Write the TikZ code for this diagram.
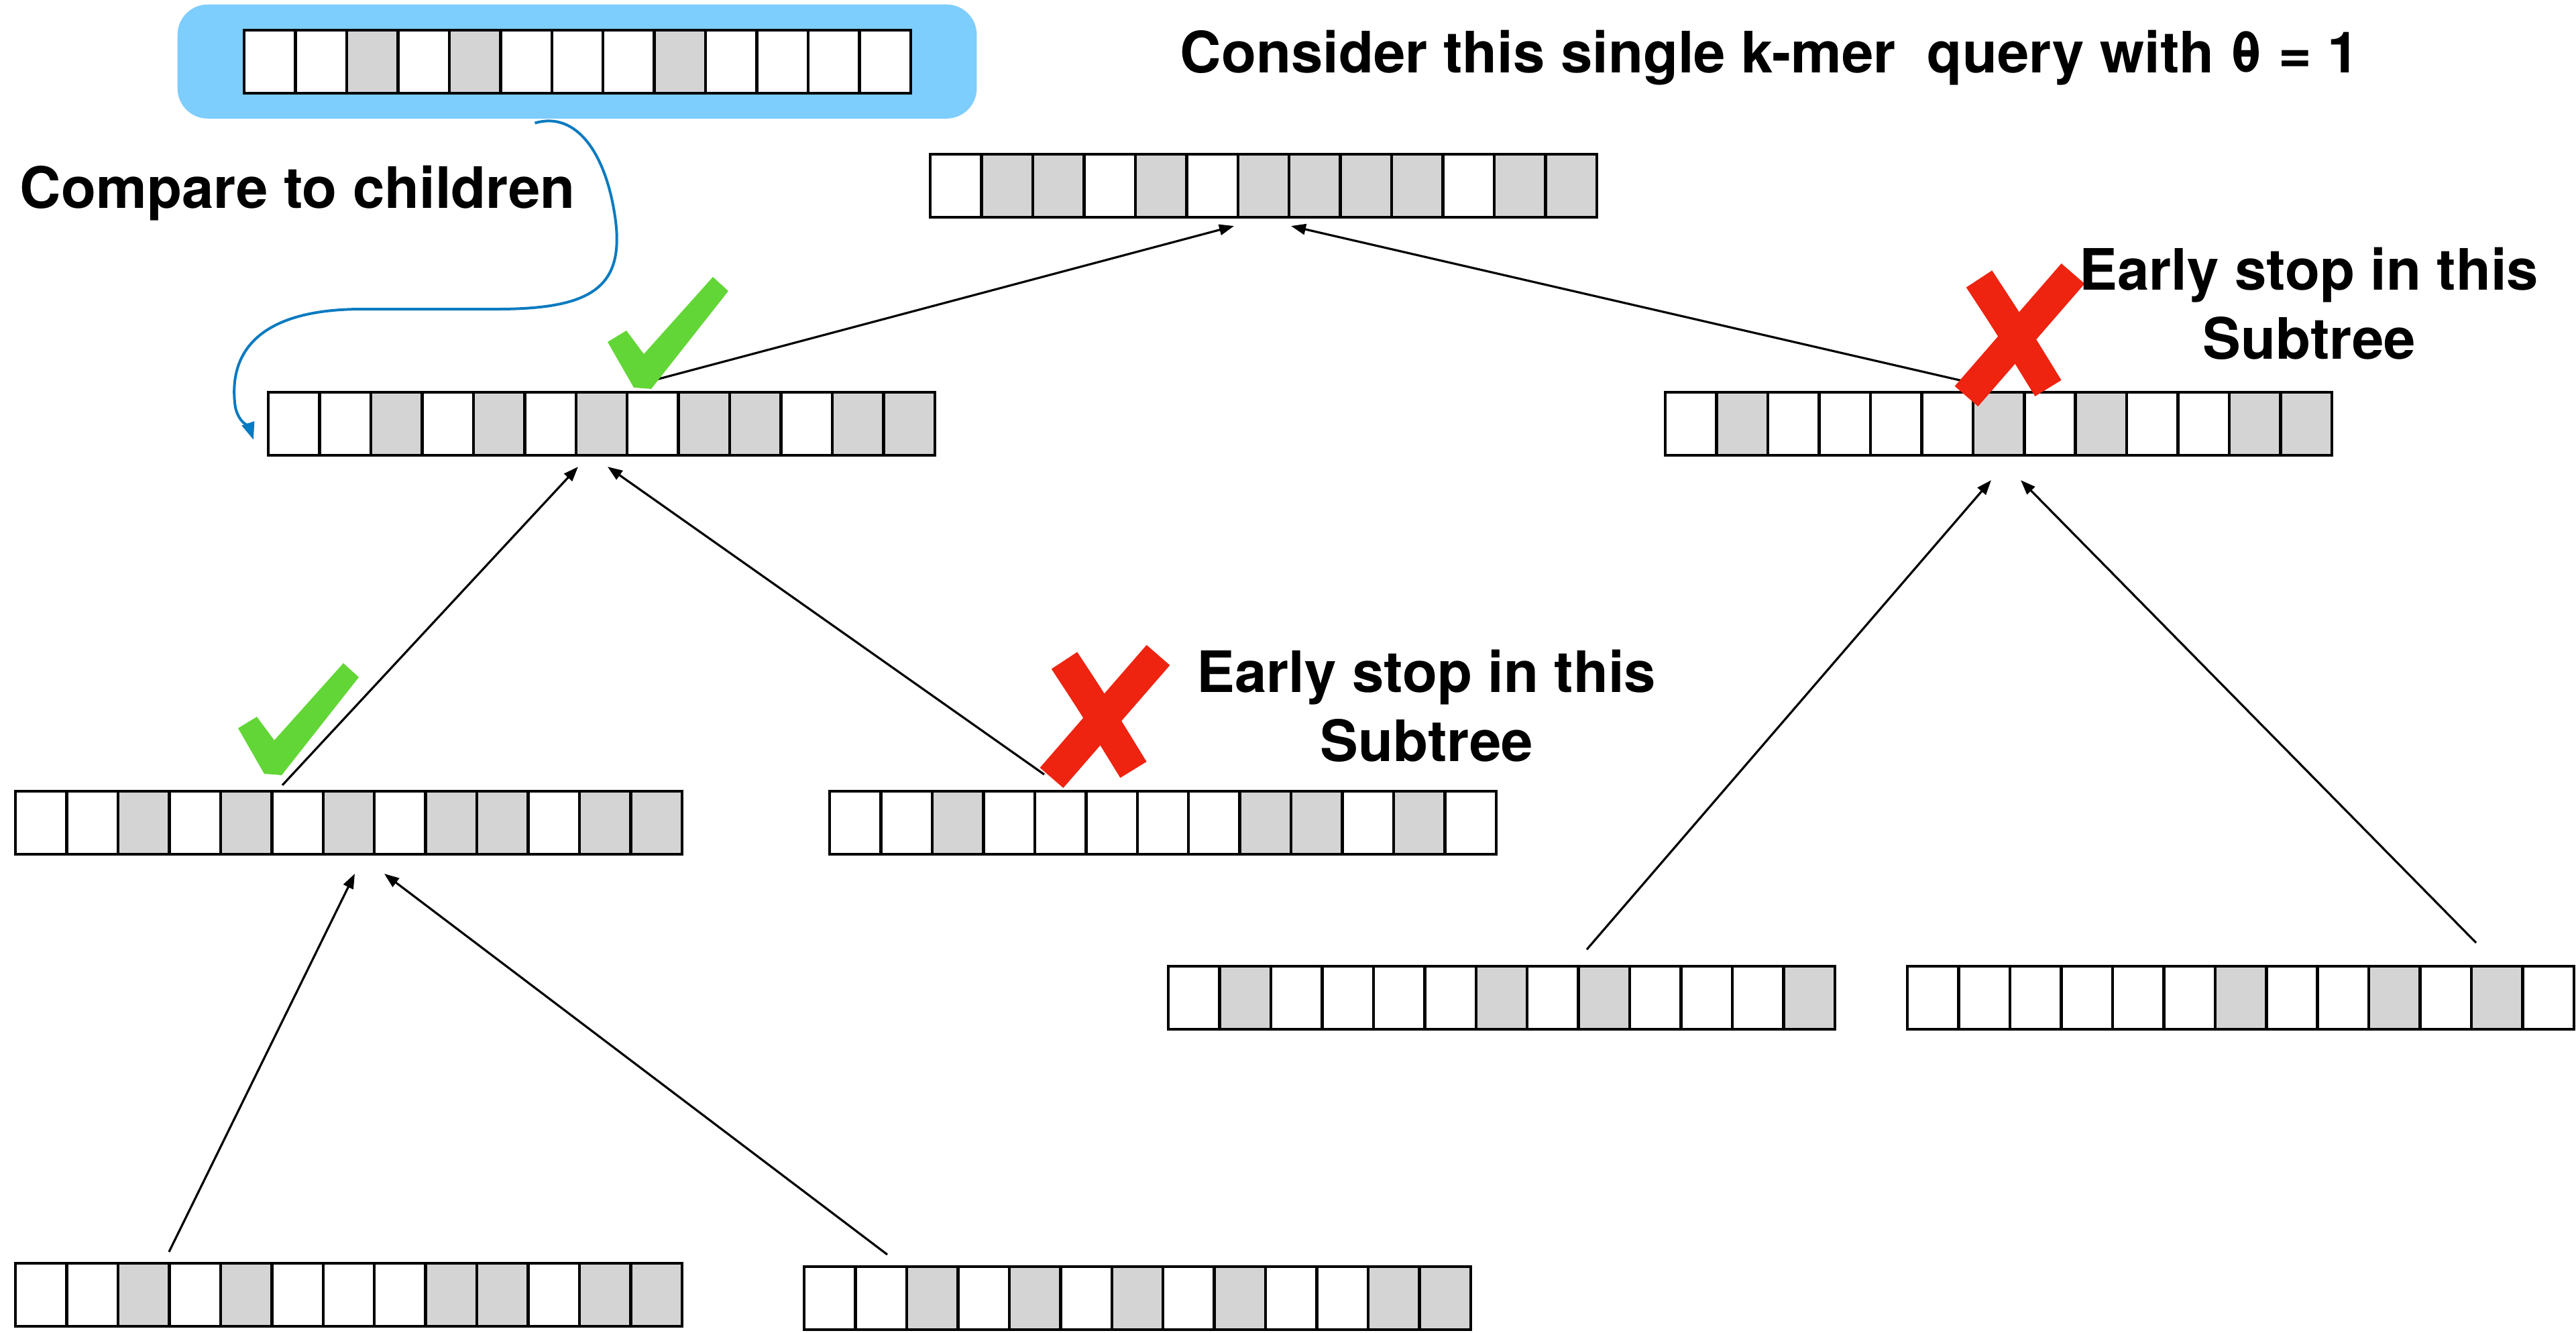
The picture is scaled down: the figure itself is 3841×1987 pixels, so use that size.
\documentclass[tikz,border=0pt]{standalone}
\usepackage{fontspec}
\setmainfont{TeX Gyre Heros}
\usetikzlibrary{arrows.meta}
\definecolor{qblue}{RGB}{125,205,253}
\definecolor{curveblue}{RGB}{10,122,192}
\definecolor{cellgray}{RGB}{212,212,212}
\definecolor{tickgreen}{RGB}{98,214,54}
\definecolor{crossred}{RGB}{238,35,16}

% one bit array: node name, top-left x, top-left y, 13 bits
\newcommand\bitrow[4]{%
  \node[rowbox] (#1) at (#2,#3) {};
  \begin{scope}[shift={(#2,#3)}]
    \fill[white] (0,0) rectangle (994,94);
    \foreach \b [count=\i from 0] in {#4} {%
      \ifnum\b=1 \fill[cellgray] (\i*76.46,0) rectangle ++(76.46,94);\fi
    }
    \foreach \i in {1,...,12} \draw[cellline] (\i*76.46,0) -- (\i*76.46,94);
    \draw[cellline] (0,0) rectangle (994,94);
  \end{scope}
}

\begin{document}
\begin{tikzpicture}[x=0.01cm,y=-0.01cm,
  rowbox/.style={anchor=north west, minimum width=9.94cm, minimum height=0.94cm,
                 inner sep=0pt, outer sep=0pt},
  cellline/.style={draw=black, line width=0.045cm},
  link/.style={draw=black, line width=0.032cm, -{Triangle[length=0.22cm,width=0.16cm]}},
  curve/.style={draw=curveblue, line width=0.04cm, -{Triangle[length=0.26cm,width=0.19cm]}},
  lbl/.style={font=\fontsize{24.2pt}{29pt}\selectfont\bfseries, inner sep=0pt, anchor=base west},
  okmark/.pic={\fill[tickgreen] (-52,-70) -- (-24,-87) -- (2,-52) -- (105,-167)
                 -- (128,-146) -- (13,0) -- (-13,-2) -- cycle;},
  nomark/.pic={\draw[crossred, line width=0.46cm] (-59,-87) .. controls (-15,-20) .. (44,76);
               \draw[crossred, line width=0.46cm] (81,-95) -- (-78,88);}
]
\useasboundingbox (0,0) rectangle (3841,1987);

% query k-mer on its blue pad
\node[fill=qblue, rounded corners=0.45cm, anchor=north west, minimum width=11.91cm,
      minimum height=1.70cm, inner sep=0pt] (qbox) at (264,6) {};
\bitrow{query}{364}{45}{0,0,1,0,1,0,0,0,1,0,0,0,0}

% tree of bit vectors
\bitrow{root}{1387}{230}{0,1,1,0,1,0,1,1,1,1,0,1,1}
\bitrow{l1a}{400}{585}{0,0,1,0,1,0,1,0,1,1,0,1,1}
\bitrow{l1b}{2483}{585}{0,1,0,0,0,0,1,0,1,0,0,1,1}
\bitrow{l2a}{23}{1180}{0,0,1,0,1,0,1,0,1,1,0,1,1}
\bitrow{l2b}{1237}{1180}{0,0,1,0,0,0,0,0,1,1,0,1,0}
\bitrow{ra}{1742}{1441}{0,1,0,0,0,0,1,0,1,0,0,0,1}
\bitrow{rb}{2844}{1441}{0,0,0,0,0,0,1,0,0,1,0,1,0}
\bitrow{bl}{23}{1884}{0,0,1,0,1,0,0,0,1,1,0,1,1}
\bitrow{bm}{1199}{1889}{0,0,1,0,1,0,1,0,1,0,0,1,1}

% child -> parent links
\draw[link] ([shift={(575,-18)}]l1a.north west) -- ([shift={(453,13)}]root.south west);
\draw[link] ([shift={(452,-15)}]l1b.north west) -- ([shift={(538,13)}]root.south west);
\draw[link] ([shift={(398,-9)}]l2a.north west) -- ([shift={(462,17)}]l1a.south west);
\draw[link] ([shift={(320,-25)}]l2b.north west) -- ([shift={(506,17)}]l1a.south west);
\draw[link] ([shift={(624,-25)}]ra.north west) -- ([shift={(486,37)}]l1b.south west);
\draw[link] ([shift={(848,-35)}]rb.north west) -- ([shift={(530,37)}]l1b.south west);
\draw[link] ([shift={(229,-17)}]bl.north west) -- ([shift={(506,29)}]l2a.south west);
\draw[link] ([shift={(124,-18)}]bm.north west) -- ([shift={(550,29)}]l2a.south west);

% query handed down to the children
\draw[curve] ([shift={(-63,6)}]qbox.south) .. controls (860,165) and (905,230) .. (918,330)
  .. controls (930,430) and (880,461) .. (740,461) -- (540,461)
  .. controls (380,461) and (343,530) .. (350,600)
  .. controls (352,628) and (372,638) .. ([shift={(-22,71)}]l1a.north west);

% pass / stop marks
\pic at (958,580) {okmark};
\pic at (407,1156) {okmark};
\pic at (3010,503) {nomark};
\pic at (1646,1072) {nomark};

% labels
\node[lbl] (title) at (1759,108) {Consider this single k-mer\ \ query with θ = 1};
\node[lbl] (cmp) at (29,310) {Compare to children};
\node[lbl, anchor=base] (stopa1) at (3443,432) {Early stop in this};
\node[lbl, anchor=base] (stopa2) at (3443,535) {Subtree};
\node[lbl, anchor=base] (stopb1) at (2127,1032) {Early stop in this};
\node[lbl, anchor=base] (stopb2) at (2127,1135) {Subtree};
\end{tikzpicture}
\end{document}
